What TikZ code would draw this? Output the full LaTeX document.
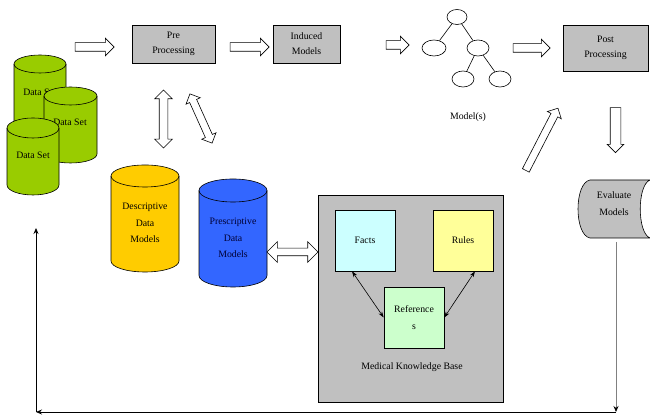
\documentclass[tikz,border=0pt]{standalone}
\usepackage{fontspec}
\setmainfont{Liberation Serif}
\usetikzlibrary{shapes.arrows,shapes.geometric,arrows.meta}
\definecolor{dsgreen}{HTML}{99CC00}
\definecolor{descy}{HTML}{FFCC00}
\definecolor{presb}{HTML}{3366FF}
\definecolor{boxgray}{HTML}{C0C0C0}
\definecolor{factc}{HTML}{CCFFFF}
\definecolor{rulec}{HTML}{FFFF99}
\definecolor{refc}{HTML}{CCFFCC}
\newcommand\dbcyl[6]{% L R T B e color
  \pgfmathsetmacro\cylrx{(#2-#1)/2}
  \filldraw[fill=#6,line width=0.6pt] (#1,#3-#5) -- (#1,#4+#5)
    arc[start angle=180,end angle=360,x radius=\cylrx pt,y radius=#5pt]
    -- (#2,#3-#5)
    arc[start angle=0,end angle=180,x radius=\cylrx pt,y radius=#5pt] -- cycle;
  \draw[line width=0.6pt] (#1,#3-#5) arc[start angle=180,end angle=360,x radius=\cylrx pt,y radius=#5pt];
}
\begin{document}
\begin{tikzpicture}[x=1pt,y=1pt,
  every node/.style={font=\fontsize{9.8}{15}\selectfont, align=center},
  tall/.style={font=\fontsize{9.8}{16.5}\selectfont},
  procbox/.style={draw, fill=boxgray, line width=0.6pt, inner sep=0pt},
  kbox/.style={draw, line width=0.6pt, inner sep=0pt, minimum width=60pt, minimum height=61pt},
  hollow/.style={single arrow, draw, fill=white, line width=0.6pt, inner xsep=0pt, inner ysep=4pt, outer sep=0pt,
    single arrow head extend=4.5pt},
  dhollow/.style={double arrow, draw, fill=white, line width=0.6pt, inner xsep=0pt, inner ysep=4pt, outer sep=0pt,
    double arrow head extend=4.5pt},
  treenode/.style={draw, ellipse, line width=0.6pt, inner sep=0pt},
  kbarrow/.style={{Stealth[length=6pt,width=4pt]}-{Stealth[length=6pt,width=4pt]}, line width=0.6pt},
  feedback/.style={-{Stealth[length=6pt,width=5pt]}, line width=0.8pt}
]
\useasboundingbox (0,0) rectangle (650,419);

% data set cylinders
\dbcyl{14}{66}{364}{261}{9}{dsgreen}
\node (ds1) at (40,327) {Data Set};
\dbcyl{44}{97}{332}{256}{9}{dsgreen}
\node (ds2) at (70,297) {Data Set};
\dbcyl{7}{59}{301}{224}{10}{dsgreen}
\node (ds3) at (33,264) {Data Set};

% top row
\node[hollow, minimum height=39pt] (a1) at (92.5,372) {};
\node[procbox, minimum width=83pt, minimum height=38pt] (pre) at (173.5,375) {Pre\\Processing};
\node[hollow, minimum height=39pt] (a2) at (247.5,372) {};
\node[procbox, minimum width=67pt, minimum height=38pt] (ind) at (306.5,375) {Induced\\Models};
\node[hollow, minimum height=23pt] (a3) at (395.5,374) {};

% tree
\node[treenode, minimum width=20pt, minimum height=15pt] (root) at (457,402) {};
\node[treenode, minimum width=24pt, minimum height=16pt] (lc) at (434,371) {};
\node[treenode, minimum width=22pt, minimum height=16pt] (rc) at (478,371) {};
\node[treenode, minimum width=22pt, minimum height=16pt] (bl) at (463,340) {};
\node[treenode, minimum width=22pt, minimum height=16pt] (br) at (500,340) {};
\draw[line width=0.6pt] (root) -- (lc);
\draw[line width=0.6pt] (root) -- (rc);
\draw[line width=0.6pt] (rc) -- (bl);
\draw[line width=0.6pt] (rc) -- (br);
\node (models) at (468,302) {Model(s)};

\node[hollow, minimum height=37pt] (a4) at (529.5,371) {};
\node[procbox, minimum width=85pt, minimum height=46pt] (post) at (605.5,371) {Post\\Processing};
\node[hollow, minimum height=45pt, inner ysep=5pt, single arrow head extend=3pt, rotate=-90] (a5) at (615.5,291.5) {};
\node[hollow, minimum height=70pt, inner ysep=3.5pt, single arrow head extend=4pt, rotate=62.7] (a6) at (541,278) {};

% evaluate models (stored data shape)
\filldraw[fill=boxgray, line width=0.6pt] (590,181) -- (650,181)
  .. controls (637,186) and (637,234) .. (650,239) -- (590,239)
  .. controls (574,236) and (574,184) .. (590,181) -- cycle;
\node[tall] (eval) at (614,215.5) {Evaluate\\Models};
\coordinate (evalbot) at (616,177);
\coordinate (cornerR) at (616,7);
\coordinate (cornerL) at (36,7);
\coordinate (upend) at (36,191);
\draw[-{Stealth[length=6pt,width=5pt,color=black]}, line width=0.8pt, draw=gray] (evalbot) -- (cornerR);
\draw[feedback] (cornerR) -- (cornerL);
\draw[feedback] (cornerL) -- (upend);

% double arrows to preprocessing
\node[dhollow, minimum height=58pt, rotate=90] (d1) at (163.5,300) {};
\node[dhollow, minimum height=54pt, inner ysep=3.5pt, double arrow head extend=4pt, rotate=-65.8] (d2) at (201,300.5) {};

% descriptive / prescriptive
\dbcyl{111}{179}{254}{147}{11}{descy}
\node[tall] (desc) at (145,196) {Descriptive\\Data\\Models};
\dbcyl{199}{267}{240}{132}{11.5}{presb}
\node[tall, text=black!80!blue] (pres) at (233,181) {Prescriptive\\Data\\Models};

\node[dhollow, minimum height=51pt, inner ysep=3.5pt, double arrow head extend=6.5pt] (d3) at (292.5,167) {};

% knowledge base
\node[procbox, minimum width=185pt, minimum height=207pt] (kb) at (410.5,120.5) {};
\node[kbox, fill=factc] (facts) at (365,178.5) {Facts};
\node[kbox, fill=rulec] (rules) at (463,178.5) {Rules};
\node[kbox, tall, fill=refc] (refs) at (414,101.5) {Reference\\s};
\draw[kbarrow] ([xshift=-13pt]facts.south) -- (refs.west);
\draw[kbarrow] ([xshift=12pt]rules.south) -- (refs.east);
\node (kblabel) at (412,52) {Medical Knowledge Base};
\end{tikzpicture}
\end{document}
